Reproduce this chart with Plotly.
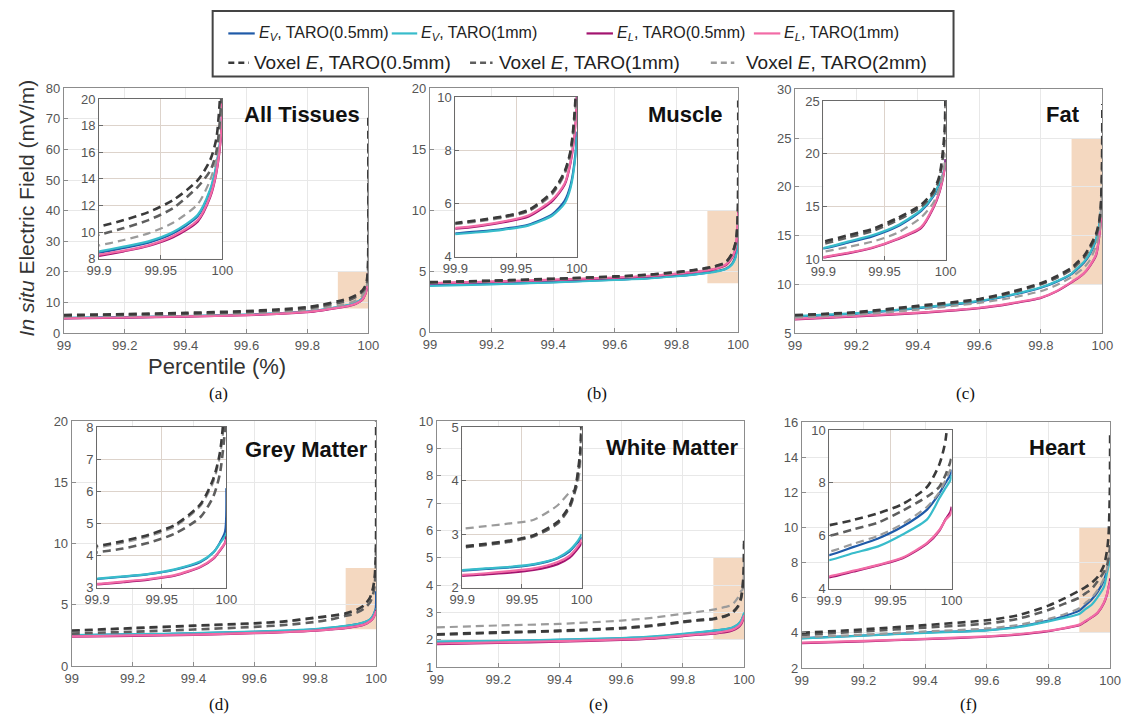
import plotly.graph_objects as go

W, H = 1127, 722

# Percentile sample points (x values)
PCT = [99.0, 99.2, 99.4, 99.6, 99.7, 99.8, 99.85, 99.9, 99.92, 99.94, 99.96, 99.98, 99.99, 99.995, 99.999, 100.0]

# ---------------- (a) All Tissues ----------------
all_ev05 = [4.9, 5.15, 5.5, 6.0, 6.4, 7.0, 7.6, 8.45, 8.8, 9.2, 9.9, 11.2, 13.1, 14.9, 17.5, 21.0]
all_ev1 = [4.95, 5.2, 5.55, 6.05, 6.45, 7.05, 7.7, 8.55, 8.9, 9.3, 10.0, 11.3, 13.2, 15.0, 17.5, 20.5]
all_el05 = [4.8, 5.05, 5.4, 5.85, 6.25, 6.85, 7.45, 8.2, 8.55, 8.95, 9.6, 10.8, 12.6, 14.4, 17.5, 21.0]
all_el1 = [4.85, 5.1, 5.45, 5.9, 6.3, 6.9, 7.5, 8.3, 8.6, 9.0, 9.7, 10.9, 12.7, 14.5, 17.5, 20.5]
all_vx05 = [5.9, 6.2, 6.6, 7.2, 7.7, 8.5, 9.3, 10.4, 10.9, 11.5, 12.4, 13.9, 15.4, 17.0, 22.0, 72.0]
all_vx1 = [5.7, 6.0, 6.3, 6.9, 7.4, 8.1, 8.9, 9.8, 10.3, 10.9, 11.8, 13.4, 14.6, 16.0, 20.0, 60.0]
all_vx2 = [5.4, 5.7, 6.0, 6.5, 6.9, 7.6, 8.3, 9.0, 9.4, 9.9, 10.7, 12.1, 13.9, 15.5, 19.0, 50.0]

# ---------------- (b) Muscle ----------------
mus_ev05 = [3.85, 3.95, 4.1, 4.3, 4.4, 4.6, 4.72, 4.88, 4.95, 5.05, 5.2, 5.6, 6.1, 6.7, 7.9, 8.7]
mus_ev1 = [3.8, 3.92, 4.08, 4.28, 4.38, 4.58, 4.7, 4.85, 4.92, 5.02, 5.17, 5.55, 6.0, 6.6, 7.8, 8.5]
mus_el05 = [4.0, 4.12, 4.27, 4.45, 4.57, 4.78, 4.9, 5.05, 5.15, 5.3, 5.5, 6.1, 6.7, 7.55, 9.0, 10.0]
mus_el1 = [4.02, 4.14, 4.3, 4.48, 4.6, 4.8, 4.93, 5.08, 5.18, 5.33, 5.55, 6.15, 6.75, 7.6, 9.0, 9.8]
mus_vx05 = [4.1, 4.22, 4.38, 4.57, 4.7, 4.92, 5.07, 5.27, 5.38, 5.52, 5.75, 6.45, 7.2, 8.0, 10.0, 19.0]
mus_vx1 = [4.08, 4.2, 4.36, 4.55, 4.68, 4.9, 5.05, 5.25, 5.36, 5.5, 5.72, 6.4, 7.15, 7.95, 9.8, 17.0]
mus_vx2 = [4.05, 4.18, 4.33, 4.52, 4.65, 4.87, 5.02, 5.22, 5.33, 5.47, 5.7, 6.35, 7.1, 7.9, 9.5, 15.0]

# ---------------- (c) Fat ----------------
fat_ev05 = [6.7, 7.0, 7.55, 8.25, 8.85, 9.65, 10.25, 11.05, 11.6, 12.2, 13.1, 14.6, 16.0, 17.2, 18.5, 19.5]
fat_ev1 = [6.75, 7.05, 7.6, 8.3, 8.9, 9.7, 10.3, 11.1, 11.7, 12.3, 13.2, 14.7, 16.1, 17.3, 18.6, 19.3]
fat_el05 = [6.4, 6.7, 7.05, 7.55, 8.0, 8.6, 9.25, 10.2, 10.6, 11.1, 11.9, 13.0, 14.9, 16.4, 18.5, 19.5]
fat_el1 = [6.45, 6.75, 7.1, 7.6, 8.05, 8.65, 9.3, 10.25, 10.65, 11.15, 11.95, 13.1, 15.0, 16.5, 18.5, 19.2]
fat_vx05 = [6.85, 7.15, 7.8, 8.5, 9.2, 10.1, 10.8, 11.7, 12.3, 12.9, 13.9, 15.2, 16.5, 18.0, 22.0, 28.5]
fat_vx1 = [6.8, 7.1, 7.7, 8.4, 9.1, 10.0, 10.65, 11.5, 12.1, 12.7, 13.7, 15.0, 16.3, 17.8, 21.0, 26.0]
fat_vx2 = [6.6, 6.9, 7.4, 8.1, 8.6, 9.3, 9.9, 10.75, 11.2, 11.7, 12.5, 14.0, 15.4, 16.8, 19.0, 20.0]

# ---------------- (d) Grey Matter ----------------
gm_ev05 = [2.5, 2.58, 2.66, 2.8, 2.88, 3.0, 3.12, 3.27, 3.34, 3.42, 3.56, 3.8, 4.1, 4.4, 4.75, 6.1]
gm_ev1 = [2.52, 2.6, 2.68, 2.82, 2.9, 3.02, 3.14, 3.28, 3.35, 3.43, 3.57, 3.82, 4.1, 4.38, 4.6, 4.7]
gm_el05 = [2.4, 2.47, 2.55, 2.68, 2.76, 2.88, 2.99, 3.1, 3.17, 3.25, 3.37, 3.64, 3.9, 4.15, 4.4, 4.6]
gm_el1 = [2.42, 2.5, 2.57, 2.7, 2.78, 2.9, 3.0, 3.12, 3.19, 3.27, 3.39, 3.66, 3.92, 4.17, 4.4, 4.5]
gm_vx05 = [2.9, 3.1, 3.3, 3.5, 3.65, 3.95, 4.1, 4.3, 4.45, 4.65, 4.95, 5.6, 6.4, 7.2, 9.0, 20.0]
gm_vx1 = [2.65, 2.8, 2.98, 3.2, 3.35, 3.6, 3.8, 4.1, 4.22, 4.4, 4.68, 5.2, 5.85, 6.55, 8.0, 10.0]
gm_vx2 = [2.85, 3.05, 3.25, 3.45, 3.6, 3.9, 4.05, 4.25, 4.4, 4.6, 4.9, 5.55, 6.3, 7.1, 8.5, 12.0]

# ---------------- (e) White Matter ----------------
wm_ev05 = [1.92, 1.95, 1.99, 2.05, 2.1, 2.2, 2.26, 2.32, 2.35, 2.38, 2.43, 2.55, 2.68, 2.8, 2.9, 2.95]
wm_ev1 = [1.93, 1.96, 2.0, 2.06, 2.11, 2.21, 2.27, 2.33, 2.36, 2.39, 2.44, 2.56, 2.7, 2.82, 2.95, 3.0]
wm_el05 = [1.84, 1.88, 1.93, 1.99, 2.04, 2.13, 2.18, 2.22, 2.25, 2.28, 2.33, 2.44, 2.56, 2.68, 2.8, 2.85]
wm_el1 = [1.86, 1.9, 1.95, 2.01, 2.06, 2.15, 2.2, 2.24, 2.27, 2.31, 2.36, 2.48, 2.6, 2.72, 2.85, 2.9]
wm_vx05 = [2.2, 2.27, 2.33, 2.43, 2.52, 2.66, 2.72, 2.77, 2.82, 2.88, 2.98, 3.23, 3.54, 3.9, 4.6, 5.7]
wm_vx1 = [2.18, 2.25, 2.31, 2.41, 2.5, 2.64, 2.7, 2.75, 2.8, 2.86, 2.96, 3.2, 3.5, 3.85, 4.5, 5.5]
wm_vx2 = [2.45, 2.52, 2.58, 2.7, 2.8, 2.95, 3.02, 3.1, 3.15, 3.2, 3.27, 3.54, 3.78, 3.83, 4.3, 5.0]

# ---------------- (f) Heart ----------------
ht_ev05 = [3.7, 3.85, 4.02, 4.16, 4.35, 4.7, 4.95, 5.27, 5.58, 5.9, 6.35, 6.99, 7.6, 8.0, 8.3, 8.5]
ht_ev1 = [3.68, 3.84, 4.0, 4.14, 4.32, 4.65, 4.85, 5.08, 5.35, 5.6, 6.05, 6.62, 7.42, 7.8, 8.1, 8.3]
ht_el05 = [3.42, 3.52, 3.64, 3.78, 3.9, 4.1, 4.25, 4.43, 4.65, 4.88, 5.15, 5.7, 6.19, 6.62, 6.9, 7.1]
ht_el1 = [3.44, 3.54, 3.66, 3.8, 3.92, 4.12, 4.27, 4.47, 4.68, 4.9, 5.18, 5.73, 6.22, 6.6, 6.8, 6.95]
ht_vx05 = [4.0, 4.2, 4.44, 4.72, 5.0, 5.55, 5.95, 6.4, 6.6, 6.85, 7.2, 7.85, 8.7, 9.6, 12.0, 15.3]
ht_vx1 = [3.88, 4.08, 4.3, 4.53, 4.8, 5.3, 5.65, 6.0, 6.25, 6.5, 6.95, 7.48, 7.85, 8.3, 8.8, 9.0]
ht_vx2 = [3.75, 3.9, 4.08, 4.25, 4.45, 4.8, 5.05, 5.4, 5.7, 6.0, 6.45, 7.1, 7.65, 8.1, 8.5, 8.6]

TITLES = ["All Tissues", "Muscle", "Fat", "Grey Matter", "White Matter", "Heart"]
SUBLABELS = ["(a)", "(b)", "(c)", "(d)", "(e)", "(f)"]
MAIN_XTICKS = [99.0, 99.2, 99.4, 99.6, 99.8, 100.0]
MAIN_XTEXT = ["99", "99.2", "99.4", "99.6", "99.8", "100"]
INSET_XTICKS = [99.9, 99.95, 100.0]
INSET_XTEXT = ["99.9", "99.95", "100"]
MAIN_YRANGE = [[0, 80], [0, 20], [5, 30], [0, 20], [1, 10], [2, 16]]
MAIN_YDTICK = [10, 5, 5, 5, 1, 2]
INSET_YRANGE = [[8, 20], [4, 10], [10, 25], [3, 8], [2, 5], [4, 10]]
INSET_YDTICK = [2, 2, 5, 1, 1, 2]

SERIES_NAMES = ["<i>E<sub>V</sub></i>, TARO(0.5mm)", "<i>E<sub>V</sub></i>, TARO(1mm)",
                "<i>E<sub>L</sub></i>, TARO(0.5mm)", "<i>E<sub>L</sub></i>, TARO(1mm)",
                "Voxel <i>E</i>, TARO(0.5mm)", "Voxel <i>E</i>, TARO(1mm)", "Voxel <i>E</i>, TARO(2mm)"]

DATA = [
    [all_ev05, all_ev1, all_el05, all_el1, all_vx05, all_vx1, all_vx2],
    [mus_ev05, mus_ev1, mus_el05, mus_el1, mus_vx05, mus_vx1, mus_vx2],
    [fat_ev05, fat_ev1, fat_el05, fat_el1, fat_vx05, fat_vx1, fat_vx2],
    [gm_ev05, gm_ev1, gm_el05, gm_el1, gm_vx05, gm_vx1, gm_vx2],
    [wm_ev05, wm_ev1, wm_el05, wm_el1, wm_vx05, wm_vx1, wm_vx2],
    [ht_ev05, ht_ev1, ht_el05, ht_el1, ht_vx05, ht_vx1, ht_vx2],
]

# ---------------- styles / layout (pixels) ----------------
COLORS = ["#1f5aa8", "#38bccb", "#a3136f", "#f26ba6", "#3a3a3a", "#5e5e5e", "#9b9b9b"]
WIDTHS = [2.2, 2.2, 2.2, 2.2, 2.6, 2.6, 2.2]
DASHES = ["solid"] * 4 + ["8px,5px"] * 3
DRAW_ORDER = [0, 1, 2, 3, 6, 5, 4]

MAIN_BOX = [(52, 363, 83, 333), (426, 741, 83, 332), (799, 1113, 84, 333),
            (60, 371, 423, 673), (433, 747, 423, 674), (806, 1121, 424, 675)]
INSET_BOX = [(88, 214, 94, 257), (452, 576, 92, 255), (828, 953, 96, 258),
             (86, 218, 429, 593), (459, 581, 429, 593), (834, 959, 432, 594)]
TITLE_POS = [(357, 110), (727, 110), (1092, 110), (365, 452), (743, 450), (1098, 450)]
SUBLABEL_POS = [(210, 395), (597, 395), (973, 395), (210, 712), (598, 712), (976, 712)]

FONT = "Liberation Sans, Arial, sans-serif"
TICK_FONT = dict(family=FONT, size=13, color="#555555")


def px(x):
    return x / W


def py(y):
    return 1 - y / H


def ak(prefix, n):
    return prefix if n == 1 else f"{prefix}{n}"


def rng(lo, hi, step):
    vals = []
    v = lo
    while v <= hi + 1e-9:
        vals.append(v)
        v += step
    return vals


fig = go.Figure()
layout = dict(width=W, height=H, margin=dict(l=0, r=0, t=0, b=0), autosize=False,
              paper_bgcolor="white", plot_bgcolor="white", showlegend=False,
              font=dict(family=FONT))
shapes = []
annotations = []

for i in range(6):
    nm = 2 * i + 1
    ni = 2 * i + 2
    for n, box, inset in ((nm, MAIN_BOX[i], False), (ni, INSET_BOX[i], True)):
        x0, x1, y0, y1 = box
        if inset:
            xr = [99.9, 100.0]
            xt, xtt = INSET_XTICKS, INSET_XTEXT
            yr = INSET_YRANGE[i]
            yt = rng(yr[0], yr[1], INSET_YDTICK[i])
            lc, gc = "#6a6a6a", "#ddd3cb"
        else:
            xr = [99.0, 100.0]
            xt, xtt = MAIN_XTICKS, MAIN_XTEXT
            yr = MAIN_YRANGE[i]
            yt = rng(yr[0], yr[1], MAIN_YDTICK[i])
            lc, gc = "#8c8c8c", "#e8e8e8"
        common = dict(showline=True, linecolor=lc, linewidth=1, mirror=True,
                      ticks="inside", ticklen=4, tickcolor=lc, showgrid=True,
                      gridcolor=gc, gridwidth=1, zeroline=False, tickfont=TICK_FONT,
                      fixedrange=True)
        layout[ak("xaxis", n)] = dict(domain=[px(x0), px(x1)], range=xr, tickvals=xt,
                                      ticktext=xtt, anchor=ak("y", n), **common)
        layout[ak("yaxis", n)] = dict(domain=[py(y1), py(y0)], range=yr, tickvals=yt,
                                      ticktext=[f"{v:g}" for v in yt], anchor=ak("x", n),
                                      **common)
        if inset:
            shapes.append(dict(type="rect", xref=ak("x", n) + " domain", yref=ak("y", n) + " domain",
                               x0=0, x1=1, y0=0, y1=1, fillcolor="#f9f1eb",
                               line=dict(width=0), layer="below"))
        else:
            lo, hi = INSET_YRANGE[i]
            shapes.append(dict(type="rect", xref=ak("x", n), yref=ak("y", n),
                               x0=99.9, x1=100.0, y0=lo, y1=hi, fillcolor="#f4d8c0",
                               line=dict(width=0), layer="below"))
        for s in DRAW_ORDER:
            fig.add_trace(go.Scatter(
                x=PCT, y=DATA[i][s], mode="lines", name=SERIES_NAMES[s],
                xaxis=ak("x", n), yaxis=ak("y", n), hoverinfo="skip",
                line=dict(color=COLORS[s], width=WIDTHS[s], dash=DASHES[s],
                          shape="spline", smoothing=0.7)))

    tx, ty = TITLE_POS[i]
    annotations.append(dict(text=f"<b>{TITLES[i]}</b>", xref="paper", yref="paper",
                            x=px(tx), y=py(ty), xanchor="right", yanchor="middle",
                            showarrow=False, font=dict(family=FONT, size=22, color="#111111")))
    sx, sy = SUBLABEL_POS[i]
    annotations.append(dict(text=SUBLABELS[i], xref="paper", yref="paper",
                            x=px(sx), y=py(sy), xanchor="center", yanchor="middle",
                            showarrow=False,
                            font=dict(family="Liberation Serif, Times New Roman, serif",
                                      size=17, color="#111111")))

# axis titles (panel a)
annotations.append(dict(text="<i>In situ</i> Electric Field (mV/m)", xref="paper", yref="paper",
                        x=px(14), y=py(205), xanchor="center", yanchor="middle", textangle=-90,
                        showarrow=False, font=dict(family=FONT, size=21, color="#333333")))
annotations.append(dict(text="Percentile (%)", xref="paper", yref="paper",
                        x=px(208), y=py(367), xanchor="center", yanchor="middle",
                        showarrow=False, font=dict(family=FONT, size=22, color="#333333")))

# ---------------- manual legend ----------------
shapes.append(dict(type="rect", xref="paper", yref="paper", x0=px(204), x1=px(961),
                   y0=py(71), y1=py(4), line=dict(color="#444444", width=2),
                   fillcolor="white", layer="above"))
LEG_ROW1 = [(220, 247, 249), (387, 413, 415), (586, 613, 615), (757, 784, 786)]
LEG_ROW2 = [(220, 241, 244), (467, 490, 495), (713, 737, 747)]
for k, (l0, l1, tx0) in enumerate(LEG_ROW1 + LEG_ROW2):
    row_y = 27 if k < 4 else 57
    shapes.append(dict(type="line", xref="paper", yref="paper", x0=px(l0), x1=px(l1),
                       y0=py(row_y), y1=py(row_y), layer="above",
                       line=dict(color=COLORS[k], width=2.2 if k < 4 else 2.4,
                                 dash="solid" if k < 4 else "6px,4px")))
    annotations.append(dict(text=SERIES_NAMES[k], xref="paper", yref="paper",
                            x=px(tx0), y=py(row_y), xanchor="left", yanchor="middle",
                            showarrow=False,
                            font=dict(family=FONT, size=16 if k < 4 else 19, color="#222222")))

layout["shapes"] = shapes
layout["annotations"] = annotations
fig.update_layout(**layout)
fig.write_html("out.html")
